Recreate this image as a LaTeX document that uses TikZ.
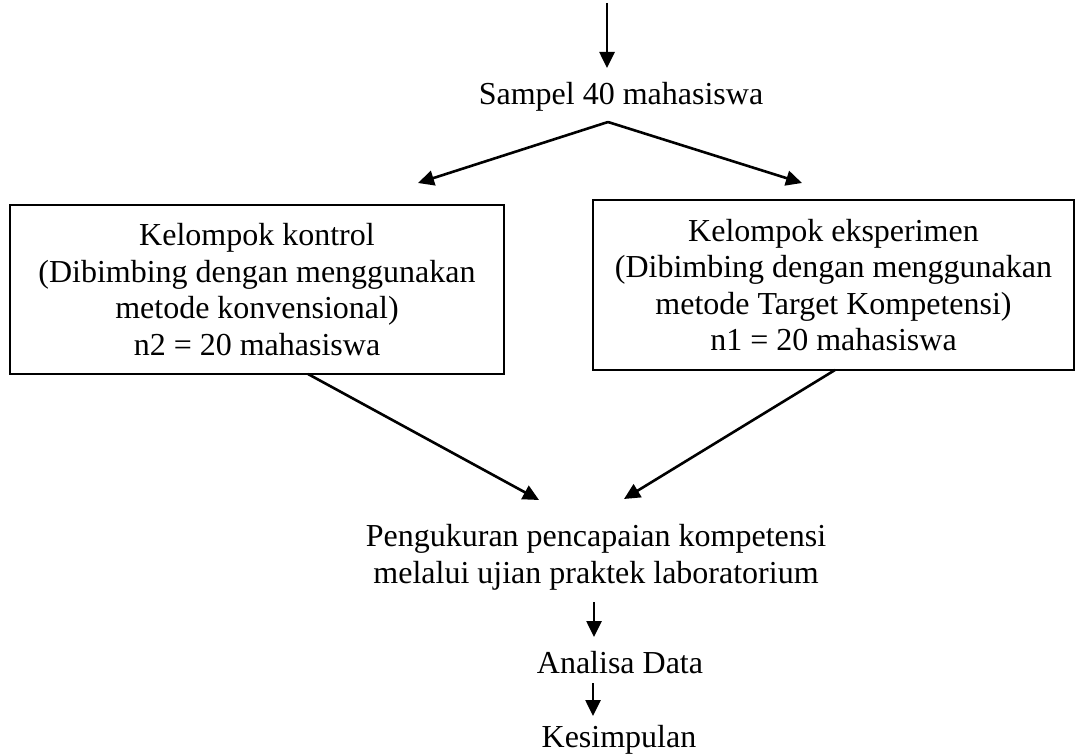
\documentclass[tikz,border=0pt]{standalone}
\usepackage{fontspec}
\setmainfont{Liberation Serif}
\usetikzlibrary{arrows.meta}
\begin{document}
\begin{tikzpicture}[x=0.5pt,y=-0.5pt,
  txt/.style={inner sep=0pt,outer sep=0pt,font=\fontsize{16}{18.3}\selectfont,align=center},
  boxL/.style={txt,draw,line width=1.4pt,minimum width=247pt,minimum height=84.5pt},
  boxR/.style={txt,draw,line width=1pt,minimum width=240.5pt,minimum height=85pt},
  arr/.style={line width=1.3pt,-{Triangle[length=8pt,width=7.5pt]}}]
\useasboundingbox (0,0) rectangle (1076,754);

\node[txt,anchor=base] (samp) at (621,105) {Sampel 40 mahasiswa};
\node[boxL] (ctrl) at (257,289.5) {Kelompok kontrol\\(Dibimbing dengan menggunakan\\metode konvensional)\\n2 = 20 mahasiswa};
\node[boxR] (exp) at (833.5,285) {Kelompok eksperimen\\(Dibimbing dengan menggunakan\\metode Target Kompetensi)\\n1 = 20 mahasiswa};
\node[txt] (meas) at (596,557.5) {Pengukuran pencapaian kompetensi\\melalui ujian praktek laboratorium};
\node[txt,anchor=base] (ana) at (620,673) {Analisa Data};
\node[txt,anchor=base] (kes) at (619,747) {Kesimpulan};

\coordinate (top) at (607,3);
\coordinate (topend) at (607,68);
\coordinate (fork) at (608,122);
\coordinate (tipL) at (418,183);
\coordinate (tipR) at (802,183);
\coordinate (tipM1) at (539,500);
\coordinate (tipM2) at (624,499);
\coordinate (a1s) at (594,602);
\coordinate (a1e) at (594,637);
\coordinate (a2s) at (593,683);
\coordinate (a2e) at (593,716);

\draw[arr] (top) -- (topend);
\draw[arr] (fork) -- (tipL);
\draw[arr] (fork) -- (tipR);
\draw[arr] ([xshift=25.5pt]ctrl.south) -- (tipM1);
\draw[arr] ([xshift=0.75pt]exp.south) -- (tipM2);
\draw[arr] (a1s) -- (a1e);
\draw[arr] (a2s) -- (a2e);
\end{tikzpicture}
\end{document}
